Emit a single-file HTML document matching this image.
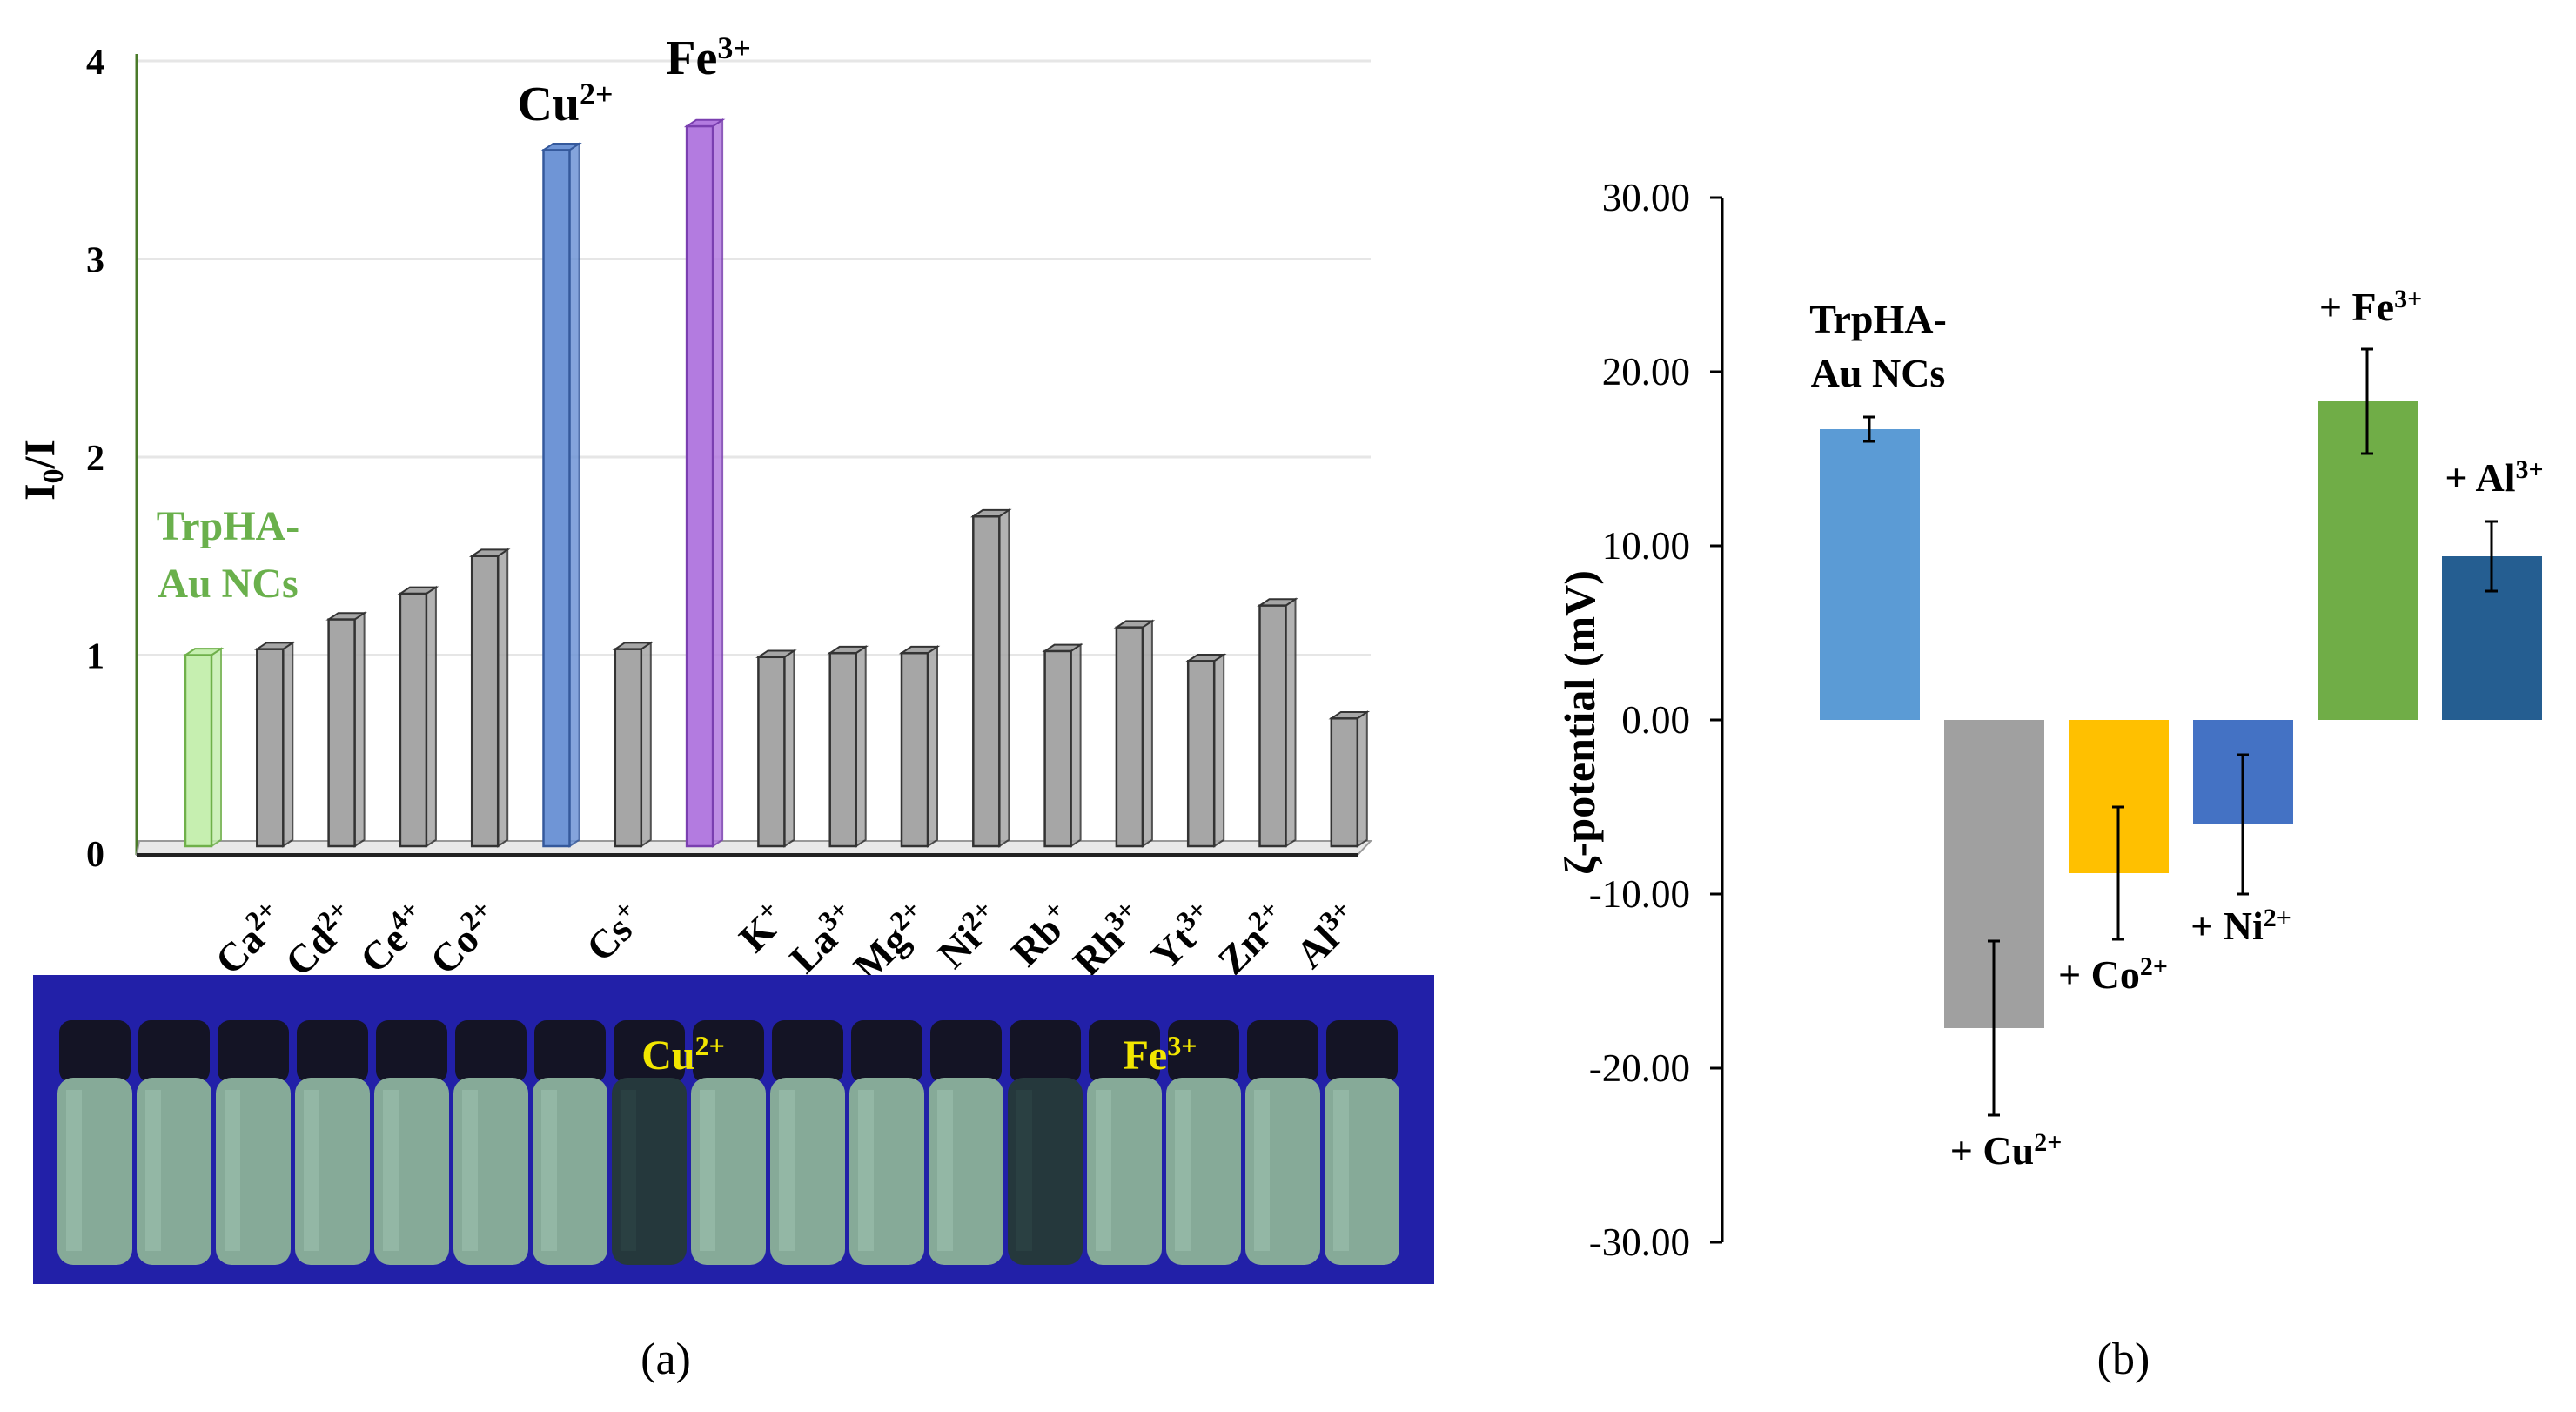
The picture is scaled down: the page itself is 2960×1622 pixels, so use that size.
<!DOCTYPE html>
<html><head><meta charset="utf-8"><style>
html,body{margin:0;padding:0;background:#fff;}
svg{display:block;font-family:"Liberation Serif",serif;}
</style></head><body>
<svg id="fig" width="2960" height="1622" viewBox="0 0 2960 1622">
<g id="left"></g>
<g id="photo"></g>
<g id="right"></g>
<text x="765" y="1578" font-size="52" text-anchor="middle">(a)</text>
<text x="2440" y="1578" font-size="52" text-anchor="middle">(b)</text>
</svg>
<script>
const ions=["TrpHA","Ca","Cd","Ce","Co","Cu","Cs","Fe","K","La","Mg","Ni","Rb","Rh","Yt","Zn","Al"];
const charges=["","2+","2+","4+","2+","2+","+","3+","+","3+","2+","2+","+","3+","3+","2+","3+"];
const ratios=[1.0,1.03,1.18,1.31,1.5,3.55,1.03,3.67,0.99,1.01,1.01,1.7,1.02,1.14,0.97,1.25,0.68];
const leftTicks=[0,1,2,3,4];
const zLabels=["TrpHA-Au NCs","+ Cu2+","+ Co2+","+ Ni2+","+ Fe3+","+ Al3+"];
const zValues=[16.7,-17.7,-8.8,-6.0,18.3,9.4];
const zErrors=[0.7,5.0,3.8,4.0,3.0,2.0];
const zTicks=[30,20,10,0,-10,-20,-30];
const NS="http://www.w3.org/2000/svg";
function mk(parent,tag,attrs,text){const e=document.createElementNS(NS,tag);for(const k in attrs)e.setAttribute(k,attrs[k]);if(text!==undefined)e.textContent=text;parent.appendChild(e);return e;}
// LEFT
const L=document.getElementById('left');
const ly=v=>980-v*227.5, lx=i=>228+i*82.3;
leftTicks.forEach(t=>{
 if(t>0){const g=mk(L,'line',{x1:157,x2:1575,y1:ly(t),y2:ly(t),stroke:'#e6e6e6','stroke-width':3});
 
 }
 const tl=mk(L,'text',{x:120,y:ly(t)+15,'font-size':42,'font-weight':'bold','text-anchor':'end'},t);
 
 
});
mk(L,'line',{x1:157,x2:157,y1:62,y2:982,stroke:'#4a7a2a','stroke-width':3});
mk(L,'polygon',{points:'160,966 1575,966 1560,982 157,982',fill:'#e8e8e8',stroke:'#999','stroke-width':2});
mk(L,'line',{x1:157,x2:1560,y1:982,y2:982,stroke:'#222','stroke-width':4});
const yt=mk(L,'text',{transform:'translate(62,540) rotate(-90)','font-size':50,'font-weight':'bold','text-anchor':'middle'});


yt.innerHTML='I<tspan font-size="34" dy="10">0</tspan><tspan dy="-10">/I</tspan>';
ions.forEach((n,i)=>{
 const c=i==0?'#c6efb0':n=='Cu'?'#6f95d6':n=='Fe'?'#b37be0':'#a6a6a6';
 const s=i==0?'#6fb04a':n=='Cu'?'#35599c':n=='Fe'?'#7a3fb0':'#333';
 const x=lx(i)-15,w=30,top=ly(ratios[i]),b=ly(0)-8,d=11;
 const g=mk(L,'g',{});
 
 
 mk(g,'polygon',{points:`${x+w},${top} ${x+w+d},${top-d/1.5} ${x+w+d},${b-d/1.5} ${x+w},${b}`,fill:c,stroke:s,'stroke-width':2,opacity:0.85});
 mk(g,'polygon',{points:`${x},${top} ${x+d},${top-d/1.5} ${x+w+d},${top-d/1.5} ${x+w},${top}`,fill:c,stroke:s,'stroke-width':2});
 mk(g,'rect',{x:x,y:top,width:w,height:b-top,fill:c,stroke:s,'stroke-width':2.5});
 if(i>0 && n!='Cu' && n!='Fe'){
  const t=mk(L,'text',{transform:`translate(${lx(i)+20},1058) rotate(-45)`,'font-size':46,'font-weight':'bold','text-anchor':'end'});
  
  
  t.innerHTML=n+'<tspan font-size="32" dy="-16">'+charges[i]+'</tspan>';
 }
});
function lbl(par,x,y,html,size,fill,name){const t=mk(par,'text',{x:x,y:y,'font-size':size,'font-weight':'bold',fill:fill,'text-anchor':'middle'});t.innerHTML=html;
 
 return t;}
lbl(L,lx(5)+10,138,'Cu<tspan font-size="36" dy="-18">2+</tspan>',56,'#000','cu-label');
lbl(L,lx(7)+10,85,'Fe<tspan font-size="36" dy="-18">3+</tspan>',56,'#000','fe-label');
lbl(L,262,620,'TrpHA-',48,'#6ab04c','trpha-label-1');
lbl(L,262,686,'Au NCs',48,'#6ab04c','trpha-label-2');
// PHOTO
const P=document.getElementById('photo');
mk(P,'rect',{x:38,y:1120,width:1610,height:355,fill:'#2220a8'});
for(let i=0;i<17;i++){
 const vx=68+i*91, dark=(i==7||i==12);
 const v=mk(P,'g',{});
 
 
 mk(v,'rect',{x:vx,y:1172,width:82,height:72,rx:14,fill:'#141425'});
 mk(v,'rect',{x:vx-2,y:1238,width:86,height:215,rx:18,fill:dark?'#25383c':'#86aa98'});
 mk(v,'rect',{x:vx+8,y:1252,width:18,height:185,fill:dark?'#2f4646':'#9cc0ae',opacity:0.6});
}
lbl(P,785,1228,'Cu<tspan font-size="32" dy="-16">2+</tspan>',48,'#f2e600','photo-cu-label');
lbl(P,1333,1228,'Fe<tspan font-size="32" dy="-16">3+</tspan>',48,'#f2e600','photo-fe-label');
// RIGHT
const R=document.getElementById('right');
const zy=v=>827-v*20, zx=i=>2148+i*143;
mk(R,'line',{x1:1979,x2:1979,y1:227,y2:1427,stroke:'#000','stroke-width':3});
zTicks.forEach(t=>{
 mk(R,'line',{x1:1965,x2:1979,y1:zy(t),y2:zy(t),stroke:'#000','stroke-width':3});
 const tl=mk(R,'text',{x:1942,y:zy(t)+15,'font-size':45,'text-anchor':'end'},t.toFixed(2));
 
 
});
const zt=mk(R,'text',{transform:'translate(1832,830) rotate(-90)','font-size':50,'font-weight':'bold','text-anchor':'middle'},'ζ-potential (mV)');


const zc=['#5b9bd5','#a0a0a0','#ffc000','#4472c4','#70ad47','#255e91'];
zValues.forEach((v,i)=>{
 const y1=Math.min(zy(v),zy(0)),h=Math.abs(zy(v)-zy(0));
 const r=mk(R,'rect',{x:zx(i)-57,y:y1,width:115,height:h,fill:zc[i]});
 
 
 const e=zErrors[i],a=zy(v+e),b=zy(v-e);
 const g=mk(R,'g',{stroke:'#000','stroke-width':3});
 
 
 mk(g,'line',{x1:zx(i),x2:zx(i),y1:a,y2:b});
 mk(g,'line',{x1:zx(i)-7,x2:zx(i)+7,y1:a,y2:a});
 mk(g,'line',{x1:zx(i)-7,x2:zx(i)+7,y1:b,y2:b});
});
lbl(R,2158,382,'TrpHA-',46,'#000','zeta-trpha-label-1');
lbl(R,2158,444,'Au NCs',46,'#000','zeta-trpha-label-2');
lbl(R,2305,1337,'+ Cu<tspan font-size="30" dy="-15">2+</tspan>',46,'#000','zeta-cu-label');
lbl(R,2428,1135,'+ Co<tspan font-size="30" dy="-15">2+</tspan>',46,'#000','zeta-co-label');
lbl(R,2575,1079,'+ Ni<tspan font-size="30" dy="-15">2+</tspan>',46,'#000','zeta-ni-label');
lbl(R,2724,368,'+ Fe<tspan font-size="30" dy="-15">3+</tspan>',46,'#000','zeta-fe-label');
lbl(R,2866,564,'+ Al<tspan font-size="30" dy="-15">3+</tspan>',46,'#000','zeta-al-label');
</script>
</body></html>
